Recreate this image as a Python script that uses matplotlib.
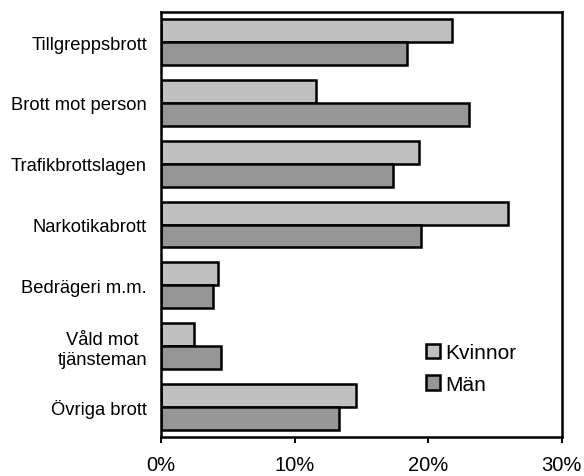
import matplotlib
matplotlib.use("Agg")
import matplotlib.pyplot as plt
import numpy as np

# ------------------------------
# DATA
# ------------------------------
categories = ["Tillgreppsbrott", "Brott mot person", "Trafikbrottslagen",
              "Narkotikabrott", "Bedrägeri m.m.", "Våld mot\ntjänsteman",
              "Övriga brott"]
kvinnor = [21.8, 11.6, 19.3, 26.0, 4.3, 2.45, 14.6]
man = [18.4, 23.05, 17.4, 19.45, 3.9, 4.5, 13.3]
xticks = [0, 10, 20, 30]
xtick_labels = ["0%", "10%", "20%", "30%"]

plt.rcParams["font.family"] = ["Liberation Sans", "DejaVu Sans"]

fig = plt.figure(figsize=(5.84, 4.77), dpi=100)
ax = fig.add_axes([0.2757, 0.0811, 0.6861, 0.8923])

y = np.arange(len(categories))
h = 0.378
ax.barh(y - h / 2, kvinnor, height=h, color="#c0c0c0", edgecolor="black",
        linewidth=1.8, label="Kvinnor")
ax.barh(y + h / 2, man, height=h, color="#969696", edgecolor="black",
        linewidth=1.8, label="Män")

ax.set_ylim(len(categories) - 0.5, -0.5)
ax.set_xlim(0, 30)

ax.set_yticks(y)
ax.set_yticklabels(categories, fontsize=13.2, multialignment="center")
ax.tick_params(axis="y", length=0, pad=10)

ax.set_xticks(xticks)
ax.set_xticklabels(xtick_labels, fontsize=14.5)
ax.tick_params(axis="x", length=4, width=1.4, pad=9)

for s in ax.spines.values():
    s.set_linewidth(1.8)

ax.legend(loc="upper left", bbox_to_anchor=(0.64, 0.24), frameon=False,
          fontsize=15, handlelength=0.7, handleheight=0.7,
          handletextpad=0.25, labelspacing=0.6, borderaxespad=0)

fig.savefig("out.png", dpi=100)
